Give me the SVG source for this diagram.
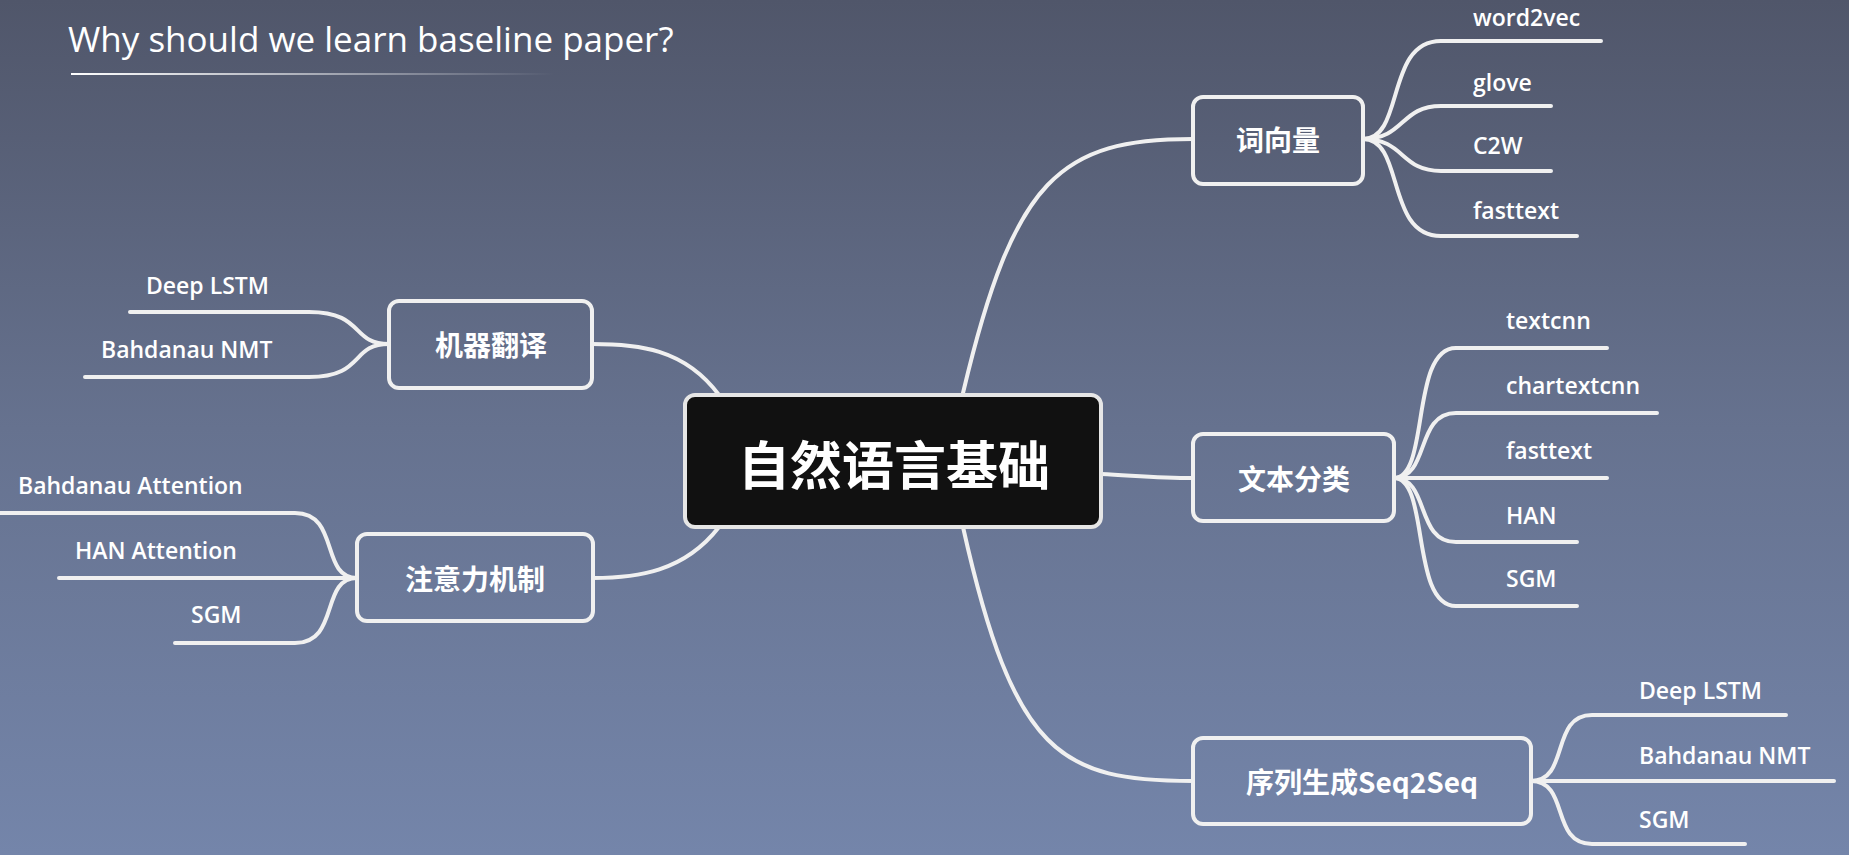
<svg xmlns="http://www.w3.org/2000/svg" width="1849" height="855" viewBox="0 0 1849 855">
<defs>
<linearGradient id="bg" x1="0" y1="0" x2="0" y2="1"><stop offset="0" stop-color="#50566a"/><stop offset="0.5" stop-color="#66728f"/><stop offset="1" stop-color="#7485aa"/></linearGradient>
<linearGradient id="ul" x1="0" y1="0" x2="1" y2="0"><stop offset="0" stop-color="#ffffff"/><stop offset="1" stop-color="#ffffff" stop-opacity="0"/></linearGradient>
<style>
.c{fill:none;stroke:#f0f0f0;stroke-width:4;stroke-linecap:round}
.n{fill:none;stroke:#f0f0f0;stroke-width:4}
.t{font-family:"Noto Sans CJK SC","Noto Sans",sans-serif;font-weight:bold;fill:#fff;text-anchor:middle;dominant-baseline:central}
.l{font-family:"Open Sans","Noto Sans",sans-serif;font-weight:600;font-size:23px;fill:#fff}
</style>
</defs>
<rect width="1849" height="855" fill="url(#bg)"/>
<text x="68" y="52" font-family="Open Sans, sans-serif" font-size="35" fill="#fff">Why should we learn baseline paper?</text>
<rect x="71" y="73" width="483" height="2" fill="url(#ul)"/>
<g id="connectors">
<path class="c" d="M963,393 C1014,177 1061,139 1193,139"/>
<path class="c" d="M1101,474 C1140,476 1160,478 1193,478"/>
<path class="c" d="M963,527 C1014,755 1061,781 1193,781"/>
<path class="c" d="M719,395 C684,348 637,344 592,344"/>
<path class="c" d="M719,527 C684,572 637,578 593,578"/>
<path class="c" d="M1363,139 C1405,139 1385,41 1441,41 L1601,41"/>
<path class="c" d="M1363,139 C1405,139 1400,106 1441,106 L1551,106"/>
<path class="c" d="M1363,139 C1405,139 1400,171 1441,171 L1551,171"/>
<path class="c" d="M1363,139 C1405,139 1385,236 1441,236 L1577,236"/>
<path class="c" d="M1394,478 C1430,478 1410,348 1456,348 L1607,348"/>
<path class="c" d="M1394,478 C1430,478 1415,413 1456,413 L1657,413"/>
<path class="c" d="M1394,478 L1607,478"/>
<path class="c" d="M1394,478 C1430,478 1415,542 1456,542 L1577,542"/>
<path class="c" d="M1394,478 C1430,478 1410,606 1456,606 L1577,606"/>
<path class="c" d="M1531,781 C1570,781 1550,715 1592,715 L1786,715"/>
<path class="c" d="M1531,781 L1834,781"/>
<path class="c" d="M1531,781 C1570,781 1550,844 1592,844 L1745,844"/>
<path class="c" d="M389,344 C350,344 365,312 309,312 L130,312"/>
<path class="c" d="M389,344 C350,344 365,377 309,377 L85,377"/>
<path class="c" d="M357,578 C320,578 340,513 295,513 L0,513"/>
<path class="c" d="M357,578 L59,578"/>
<path class="c" d="M357,578 C320,578 340,643 295,643 L175,643"/>
</g>
<g id="center"><rect x="685" y="395" width="416" height="132" rx="10" fill="#111" stroke="#e6e6e6" stroke-width="4"/><text class="t" x="894" y="462" font-size="52">自然语言基础</text></g>
<g id="n1"><rect class="n" x="1193" y="97" width="170" height="87" rx="10"/><text class="t" x="1278" y="139" font-size="28">词向量</text></g>
<g id="n2"><rect class="n" x="1193" y="434" width="201" height="87" rx="10"/><text class="t" x="1294" y="478" font-size="28">文本分类</text></g>
<g id="n3"><rect class="n" x="1193" y="738" width="338" height="86" rx="10"/><text class="t" x="1362" y="781" font-size="28">序列生成Seq2Seq</text></g>
<g id="n4"><rect class="n" x="389" y="301" width="203" height="87" rx="10"/><text class="t" x="491" y="344" font-size="28">机器翻译</text></g>
<g id="n5"><rect class="n" x="357" y="534" width="236" height="87" rx="10"/><text class="t" x="475" y="578" font-size="28">注意力机制</text></g>
<g id="leaves">
<text class="l" x="1473" y="26">word2vec</text>
<text class="l" x="1473" y="91">glove</text>
<text class="l" x="1473" y="154">C2W</text>
<text class="l" x="1473" y="219">fasttext</text>
<text class="l" x="1506" y="329">textcnn</text>
<text class="l" x="1506" y="394">chartextcnn</text>
<text class="l" x="1506" y="459">fasttext</text>
<text class="l" x="1506" y="524">HAN</text>
<text class="l" x="1506" y="587">SGM</text>
<text class="l" x="1639" y="699">Deep LSTM</text>
<text class="l" x="1639" y="764">Bahdanau NMT</text>
<text class="l" x="1639" y="828">SGM</text>
<text class="l" x="146" y="294">Deep LSTM</text>
<text class="l" x="101" y="358">Bahdanau NMT</text>
<text class="l" x="18" y="494">Bahdanau Attention</text>
<text class="l" x="75" y="559">HAN Attention</text>
<text class="l" x="191" y="623">SGM</text>
</g>
</svg>
